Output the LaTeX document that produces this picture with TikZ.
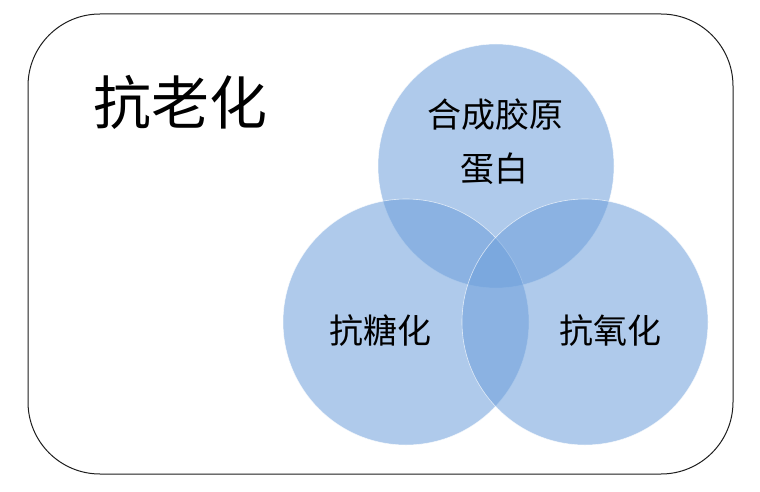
\documentclass[tikz,border=0pt]{standalone}
\usepackage{fontspec}
\newfontfamily\cjk{Noto Sans CJK SC}
\definecolor{vennblue}{RGB}{110,160,220}
\definecolor{framegray}{RGB}{30,30,30}
\tikzset{
  venn/.style={fill=vennblue, fill opacity=0.55, draw=white, draw opacity=0.7, line width=0.6pt},
  frame/.style={draw=framegray, line width=1pt, rounded corners=72pt},
  lbl/.style={font=\cjk\fontsize{34}{40}\selectfont, text=black, inner sep=0pt, align=center},
  title/.style={font=\cjk\fontsize{58}{64}\selectfont, text=black, inner sep=0pt}
}
\begin{document}
\begin{tikzpicture}[x=1pt,y=-1pt]
\useasboundingbox (0,0) rectangle (760,492);
\fill[white] (0,0) rectangle (760,492);
\draw[frame] (28,14) rectangle (733,474);
\path[venn] (496,166) ellipse [x radius=118, y radius=122];
\path[venn] (406,322) circle [radius=123];
\path[venn] (585,322) circle [radius=123];
\node[title] (t) at (180,102) {抗老化};
\node[lbl] (c1) at (495,115) {合成胶原};
\node[lbl] (c2) at (494,169) {蛋白};
\node[lbl] (l) at (380,331) {抗糖化};
\node[lbl] (r) at (610,331) {抗氧化};
\end{tikzpicture}
\end{document}
